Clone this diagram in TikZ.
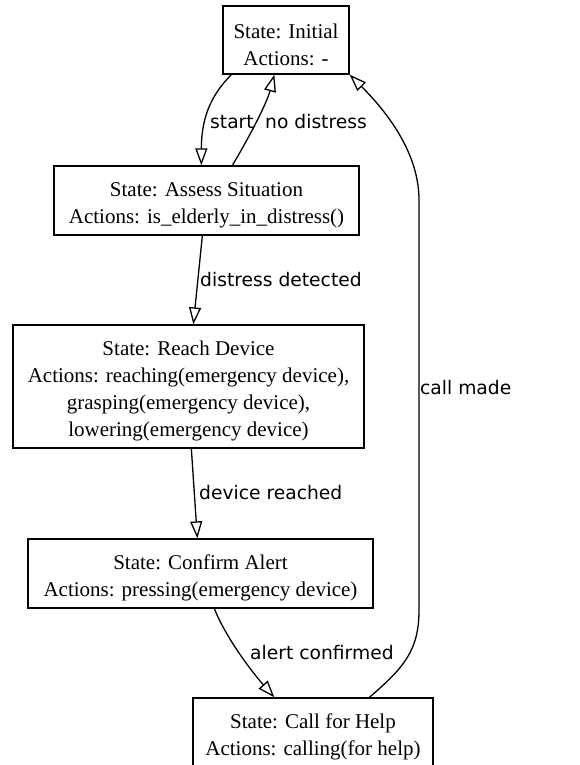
\documentclass[tikz,border=0pt]{standalone}
\usepackage{fontspec}
\setmainfont{Liberation Serif}
\newfontfamily\labfont{DejaVu Sans}
\usetikzlibrary{arrows.meta,calc}
\begin{document}
\begin{tikzpicture}[x=1pt,y=-1pt,
  statebox/.style={draw,line width=1.3pt,inner sep=0pt},
  statetext/.style={inner sep=0pt,align=center,font=\fontsize{21}{27}\selectfont},
  edge/.style={line width=1.3pt,-{Triangle[open,length=17pt,width=12pt]}},
  lab/.style={anchor=west,inner sep=0pt,font=\labfont\fontsize{18.7}{22}\selectfont}]
\useasboundingbox (0,0) rectangle (579,765);
\node[statebox,minimum width=126pt,minimum height=68pt] (init) at (286,40) {};
\node[statetext] (initT) at ($(init.center)+(0,4.5)$) {State: Initial\\Actions: -};
\node[statebox,minimum width=305pt,minimum height=69pt] (assess) at (206.5,200.5) {};
\node[statetext] (assessT) at ($(assess.center)+(0,4.5)$) {State: Assess Situation\\Actions: is\_elderly\_in\_distress()};
\node[statebox,minimum width=351pt,minimum height=123pt] (reach) at (188.5,386.5) {};
\node[statetext] (reachT) at ($(reach.center)+(0,4.5)$) {State: Reach Device\\Actions: reaching(emergency device),\\grasping(emergency device),\\lowering(emergency device)};
\node[statebox,minimum width=345pt,minimum height=69pt] (confirm) at (200.5,573.5) {};
\node[statetext] (confirmT) at ($(confirm.center)+(0,4.5)$) {State: Confirm Alert\\Actions: pressing(emergency device)};
\node[statebox,minimum width=240pt,minimum height=69pt] (call) at (313,732.5) {};
\node[statetext] (callT) at ($(call.center)+(0,4.5)$) {State: Call for Help\\Actions: calling(for help)};

\draw[edge] ($(init.south west)+(9,0)$) .. controls +(-22,22) and +(0,-45) .. ($(assess.north west)+(148,0)$);
\draw[edge] ($(assess.north west)+(179,0)$) .. controls +(15,-25) and +(-8,30) .. ($(init.south west)+(52,0)$);
\draw[edge] ($(assess.south west)+(149,0)$) -- ($(reach.north west)+(181,0)$);
\draw[edge] ($(reach.south west)+(179,0)$) -- ($(confirm.north west)+(170,0)$);
\draw[edge] ($(confirm.south west)+(187,0)$) .. controls +(12,30) and +(-22,-25) .. ($(call.north west)+(82,0)$);
\coordinate (cm1) at (419,610);
\coordinate (cm2) at (419,200);
\draw[edge] ($(call.north west)+(177,0)$) .. controls +(35,-30) and +(0,40) .. (cm1) -- (cm2) .. controls +(0,-45) and +(40,40) .. (init.south east);

\node[lab] (l1) at (210,122) {start};
\node[lab] (l2) at (265,122) {no distress};
\node[lab] (l3) at (200,280) {distress detected};
\node[lab] (l4) at (420,388) {call made};
\node[lab] (l5) at (199,493) {device reached};
\node[lab] (l6) at (250,653) {alert confirmed};
\end{tikzpicture}
\end{document}
